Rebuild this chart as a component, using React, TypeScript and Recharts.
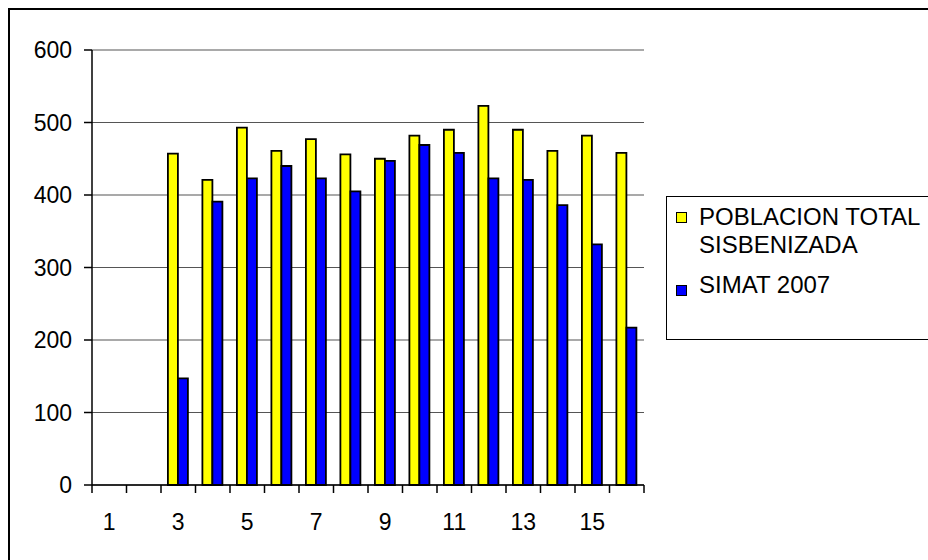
import React from 'react';
import { BarChart, Bar, XAxis, YAxis, CartesianGrid } from 'recharts';

const categories = ['1', '2', '3', '4', '5', '6', '7', '8', '9', '10', '11', '12', '13', '14', '15', '16'];
const poblacionTotal = [null, null, 457, 421, 493, 461, 477, 456, 450, 482, 490, 523, 490, 461, 482, 458];
const simat2007 = [null, null, 147, 391, 423, 440, 423, 405, 447, 469, 458, 423, 421, 386, 332, 217];
const yTicks = [0, 100, 200, 300, 400, 500, 600];

const data = categories.map((c, i) => ({
    cat: c,
    poblacion: poblacionTotal[i],
    simat: simat2007[i],
}));

const FONT = 'Arial, "Liberation Sans", sans-serif';
const CHART_W = 918;
const CHART_H = 550;
const MARGIN = { top: 40, right: 284, left: 0, bottom: 0 };
const Y_AXIS_W = 82;
const PLOT_W = CHART_W - MARGIN.left - MARGIN.right - Y_AXIS_W;
const BAND = PLOT_W / categories.length;

const XTick = (props: any) => {
    const { x, y, index } = props;
    const left = x - BAND / 2;
    const isLast = index === categories.length - 1;
    return (
        <g>
            <line x1={left} x2={left} y1={y} y2={y + 8} stroke="#000" strokeWidth={1.5} />
            {isLast && <line x1={left + BAND} x2={left + BAND} y1={y} y2={y + 8} stroke="#000" strokeWidth={1.5} />}
            {index % 2 === 0 && (
                <text x={x} y={y + 37} dy="0.36em" textAnchor="middle" fontSize={23} fontFamily={FONT} fill="#000">
                    {props.payload.value}
                </text>
            )}
        </g>
    );
};

const LegendBox = () => (
    <div
        style={{
            position: 'absolute',
            left: 656,
            top: 186,
            width: 300,
            height: 142,
            border: '1px solid #000',
            background: '#fff',
            fontFamily: FONT,
            fontSize: 24,
            lineHeight: '28px',
            color: '#000',
        }}
    >
        <div style={{ position: 'absolute', left: 9, top: 15, width: 9, height: 9, background: '#ffff00', border: '1.5px solid #000' }} />
        <div style={{ position: 'absolute', left: 32, top: 6, whiteSpace: 'nowrap' }}>
            POBLACION TOTAL
            <br />
            SISBENIZADA
        </div>
        <div style={{ position: 'absolute', left: 9, top: 88, width: 9, height: 9, background: '#0000ff', border: '1.5px solid #000' }} />
        <div style={{ position: 'absolute', left: 32, top: 74, whiteSpace: 'nowrap' }}>SIMAT 2007</div>
    </div>
);

export default function App() {
    return (
        <div
            style={{
                position: 'fixed',
                left: 8,
                top: 8,
                width: 940,
                height: 570,
                boxSizing: 'border-box',
                borderTop: '2px solid #000',
                borderLeft: '2px solid #000',
                overflow: 'hidden',
                background: '#fff',
            }}
        >
            <BarChart
                width={CHART_W}
                height={CHART_H}
                data={data}
                margin={MARGIN}
                barCategoryGap="20%"
                barGap={0}
            >
                <CartesianGrid vertical={false} stroke="#555" strokeWidth={1.2} />
                <XAxis
                    dataKey="cat"
                    height={75}
                    interval={0}
                    tickSize={0}
                    tickMargin={0}
                    tickLine={false}
                    axisLine={{ stroke: '#000', strokeWidth: 1.5 }}
                    tick={(p: any) => <XTick {...p} />}
                />
                <YAxis
                    width={Y_AXIS_W}
                    domain={[0, 600]}
                    ticks={yTicks}
                    interval={0}
                    tickSize={8}
                    tickMargin={12}
                    axisLine={{ stroke: '#000', strokeWidth: 1.5 }}
                    tickLine={{ stroke: '#000', strokeWidth: 1.5 }}
                    tick={{ fill: '#000', fontSize: 23, fontFamily: FONT }}
                />
                <YAxis
                    yAxisId="r"
                    orientation="right"
                    width={0}
                    domain={[0, 600]}
                    tick={false}
                    tickLine={false}
                    axisLine={{ stroke: '#808080', strokeWidth: 1.5 }}
                />
                <Bar dataKey="poblacion" name="POBLACION TOTAL SISBENIZADA" fill="#ffff00" stroke="#000" strokeWidth={1.8} isAnimationActive={false} />
                <Bar dataKey="simat" name="SIMAT 2007" fill="#0000ff" stroke="#000" strokeWidth={1.8} isAnimationActive={false} />
            </BarChart>
            <LegendBox />
        </div>
    );
}
